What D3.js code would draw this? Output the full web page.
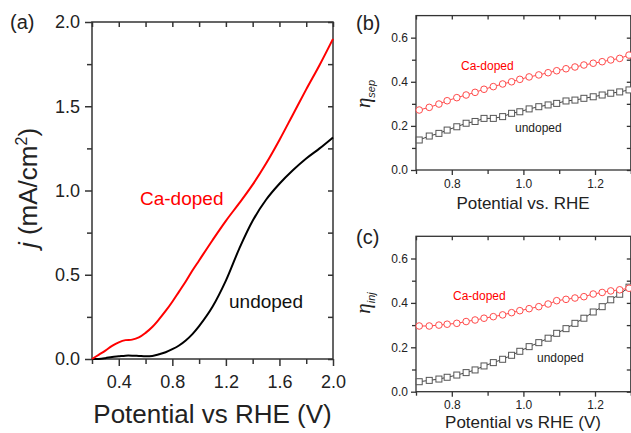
<!DOCTYPE html>
<html>
<head>
<meta charset="utf-8">
<script src="https://cdn.jsdelivr.net/npm/d3@7"></script>
<style>
  body { margin: 0; background: #fff; }
  text { font-family: "Liberation Sans", Arial, sans-serif; }
</style>
</head>
<body>
<script>
// panel (a): current density vs potential
const potA = [0.2, 0.25, 0.3, 0.35, 0.4, 0.45, 0.5, 0.55, 0.6, 0.65, 0.7, 0.75, 0.8, 0.85, 0.9, 0.95,
  1.0, 1.1, 1.2, 1.3, 1.4, 1.5, 1.6, 1.7, 1.8, 1.9, 2.0];
const jCa = [0, 0.025, 0.05, 0.078, 0.099, 0.112, 0.115, 0.128, 0.155, 0.19, 0.235, 0.285, 0.34, 0.4, 0.46, 0.525,
  0.585, 0.705, 0.82, 0.925, 1.035, 1.16, 1.3, 1.45, 1.6, 1.745, 1.9];
const jUn = [0, 0, 0.005, 0.012, 0.016, 0.02, 0.02, 0.018, 0.016, 0.018, 0.028, 0.04, 0.058, 0.08, 0.11, 0.148,
  0.195, 0.31, 0.465, 0.655, 0.82, 0.945, 1.04, 1.12, 1.19, 1.25, 1.315];

// panels (b) and (c): efficiencies
const potBC = [0.709, 0.737, 0.764, 0.787, 0.814, 0.84, 0.865, 0.89, 0.916, 0.942, 0.967, 0.99,
  1.016, 1.043, 1.069, 1.093, 1.119, 1.144, 1.169, 1.195, 1.22, 1.244, 1.269, 1.295];
const sepCa = [0.272, 0.284, 0.299, 0.314, 0.328, 0.34, 0.352, 0.366, 0.378, 0.39, 0.4, 0.411,
  0.422, 0.431, 0.441, 0.45, 0.459, 0.467, 0.476, 0.484, 0.491, 0.499, 0.506, 0.521];
const sepUn = [0.136, 0.154, 0.166, 0.181, 0.196, 0.212, 0.22, 0.234, 0.234, 0.242, 0.257, 0.264,
  0.277, 0.287, 0.295, 0.302, 0.313, 0.317, 0.325, 0.332, 0.34, 0.348, 0.354, 0.363];
const injCa = [0.296, 0.296, 0.3, 0.304, 0.308, 0.316, 0.323, 0.331, 0.338, 0.346, 0.356, 0.365,
  0.374, 0.383, 0.395, 0.41, 0.416, 0.422, 0.428, 0.44, 0.447, 0.454, 0.459, 0.466];
const injUn = [0.045, 0.051, 0.057, 0.065, 0.075, 0.086, 0.098, 0.116, 0.131, 0.146, 0.164, 0.182,
  0.203, 0.221, 0.241, 0.263, 0.284, 0.308, 0.331, 0.359, 0.383, 0.414, 0.439, 0.471];

const ticksA_x = [0.4, 0.8, 1.2, 1.6, 2.0];
const minorA_x = [0.2, 0.6, 1.0, 1.4, 1.8];
const ticksA_y = [0, 0.5, 1.0, 1.5, 2.0];
const minorA_y = [0.25, 0.75, 1.25, 1.75];
const ticksBC_x = [0.8, 1.0, 1.2];
const minorBC_x = [0.7, 0.9, 1.1, 1.3];
const ticksBC_y = [0, 0.2, 0.4, 0.6];
const minorBC_y = [0.1, 0.3, 0.5];

const RED = '#ff0000';
const AX = '#333';

const svg = d3.select('body').append('svg')
  .attr('width', 631)
  .attr('height', 433);

function styleAxis(g, sw) {
  g.select('.domain').remove();
  g.selectAll('line').attr('stroke', AX).attr('stroke-width', sw);
  g.selectAll('text').attr('fill', '#222').attr('font-family', '"Liberation Sans", Arial, sans-serif');
}

function frame(p) {
  const x = d3.scaleLinear().domain(p.xDom).range(p.xRange);
  const y = d3.scaleLinear().domain(p.yDom).range(p.yRange);
  const [x0, x1] = p.xRange, [y0, y1] = p.yRange;
  const fmt = d3.format('.1f');

  // bottom + left, outward ticks with labels
  svg.append('g').attr('transform', `translate(0,${y0})`)
    .call(d3.axisBottom(x).tickValues(p.xMajor).tickSize(p.major).tickPadding(p.xPad).tickFormat(fmt))
    .call(g => g.selectAll('text').attr('font-size', p.fs))
    .call(g => styleAxis(g, p.sw));
  svg.append('g').attr('transform', `translate(0,${y0})`)
    .call(d3.axisBottom(x).tickValues(p.xMinor).tickSize(p.minor).tickFormat(''))
    .call(g => styleAxis(g, p.sw));
  svg.append('g').attr('transform', `translate(${x0},0)`)
    .call(d3.axisLeft(y).tickValues(p.yMajor).tickSize(p.major).tickPadding(p.yPad).tickFormat(fmt))
    .call(g => g.selectAll('text').attr('font-size', p.fs))
    .call(g => styleAxis(g, p.sw));
  svg.append('g').attr('transform', `translate(${x0},0)`)
    .call(d3.axisLeft(y).tickValues(p.yMinor).tickSize(p.minor).tickFormat(''))
    .call(g => styleAxis(g, p.sw));

  // top + right, inward ticks
  svg.append('g').attr('transform', `translate(0,${y1})`)
    .call(d3.axisTop(x).tickValues(p.xMajor.concat(p.xMinor)).tickSize(-p.minor).tickFormat(''))
    .call(g => styleAxis(g, p.sw));
  svg.append('g').attr('transform', `translate(${x1},0)`)
    .call(d3.axisRight(y).tickValues(p.yMajor.concat(p.yMinor)).tickSize(-p.minor).tickFormat(''))
    .call(g => styleAxis(g, p.sw));

  svg.append('rect')
    .attr('x', x0).attr('y', y1)
    .attr('width', x1 - x0).attr('height', y0 - y1)
    .attr('fill', 'none').attr('stroke', AX).attr('stroke-width', p.sw);

  return { x, y };
}

function label(txt, x, y, size, color, family) {
  return svg.append('text').attr('x', x).attr('y', y)
    .attr('font-size', size).attr('fill', color)
    .attr('font-family', family || '"Liberation Sans", Arial, sans-serif')
    .text(txt);
}

// ---------- (a) ----------
const a = frame({
  xDom: [0.2, 2.0], xRange: [92, 333], yDom: [0, 2.0], yRange: [359, 22],
  xMajor: ticksA_x, xMinor: minorA_x, yMajor: ticksA_y, yMinor: minorA_y,
  major: 7, minor: 5, xPad: 9, yPad: 5, fs: 18, sw: 1.5
});
const lineA = d3.line().curve(d3.curveCatmullRom).x(d => a.x(d[0])).y(d => a.y(d[1]));
svg.append('path').datum(potA.map((v, i) => [v, jUn[i]]))
  .attr('d', lineA).attr('fill', 'none').attr('stroke', '#000').attr('stroke-width', 2);
svg.append('path').datum(potA.map((v, i) => [v, jCa[i]]))
  .attr('d', lineA).attr('fill', 'none').attr('stroke', RED).attr('stroke-width', 2);

label('Ca-doped', 140, 205, 19, RED);
label('undoped', 229, 308, 19, '#111');
label('Potential vs RHE (V)', 212.5, 423, 26, '#222').attr('text-anchor', 'middle');
const ya = svg.append('text').attr('transform', 'translate(37,188) rotate(-90)')
  .attr('text-anchor', 'middle').attr('font-size', 26).attr('fill', '#222');
ya.append('tspan').attr('font-style', 'italic').text('j');
ya.append('tspan').text(' (mA/cm');
ya.append('tspan').attr('font-size', 16).attr('dy', -10).text('2');
ya.append('tspan').attr('dy', 10).text(')');
label('(a)', 10, 29, 20, '#222', 'Lato, sans-serif');

// ---------- (b) and (c) ----------
function effPanel(yRange, ca, un, sub, title, titleY, letter, letterY, caPos, unPos, etaY) {
  const p = frame({
    xDom: [0.7, 1.3], xRange: [416, 630.8], yDom: [0, 0.7], yRange: yRange,
    xMajor: ticksBC_x, xMinor: minorBC_x, yMajor: ticksBC_y, yMinor: minorBC_y,
    major: 5, minor: 4, xPad: 4, yPad: 3, fs: 12, sw: 1.3
  });
  const ln = d3.line().x(d => p.x(d[0])).y(d => p.y(d[1]));
  const ptsUn = potBC.map((v, i) => [v, un[i]]);
  const ptsCa = potBC.map((v, i) => [v, ca[i]]);

  svg.append('path').datum(ptsUn).attr('d', ln)
    .attr('fill', 'none').attr('stroke', '#444').attr('stroke-width', 1);
  svg.append('g').selectAll('rect').data(ptsUn).enter().append('rect')
    .attr('x', d => p.x(d[0]) - 3).attr('y', d => p.y(d[1]) - 3)
    .attr('width', 6).attr('height', 6)
    .attr('fill', '#fff').attr('stroke', '#555').attr('stroke-width', 1);

  svg.append('path').datum(ptsCa).attr('d', ln)
    .attr('fill', 'none').attr('stroke', '#ff4a4a').attr('stroke-width', 1);
  svg.append('g').selectAll('circle').data(ptsCa).enter().append('circle')
    .attr('cx', d => p.x(d[0])).attr('cy', d => p.y(d[1])).attr('r', 3.3)
    .attr('fill', '#fff').attr('stroke', '#ff4a4a').attr('stroke-width', 1);

  label('Ca-doped', caPos[0], caPos[1], 12, RED);
  label('undoped', unPos[0], unPos[1], 12, '#222');
  label(title, 523, titleY, 17, '#222').attr('text-anchor', 'middle');
  label(letter, 356, letterY, 20, '#222', 'Lato, sans-serif');

  const t = svg.append('text').attr('transform', `translate(370,${etaY}) rotate(-90)`)
    .attr('text-anchor', 'middle').attr('fill', '#222');
  t.append('tspan').attr('font-size', 21).attr('font-style', 'italic')
    .attr('font-family', '"Liberation Serif", serif').text('η');
  t.append('tspan').attr('font-size', 11).attr('font-style', 'italic').attr('dy', 5).text(sub);
}

effPanel([170, 15.6], sepCa, sepUn, 'sep', 'Potential vs. RHE', 209, '(b)', 30,
  [461, 70], [515, 131.7], 94);
effPanel([391.7, 236.3], injCa, injUn, 'inj', 'Potential vs RHE (V)', 428, '(c)', 244,
  [453, 300], [537, 361.7], 303);
</script>
</body>
</html>
